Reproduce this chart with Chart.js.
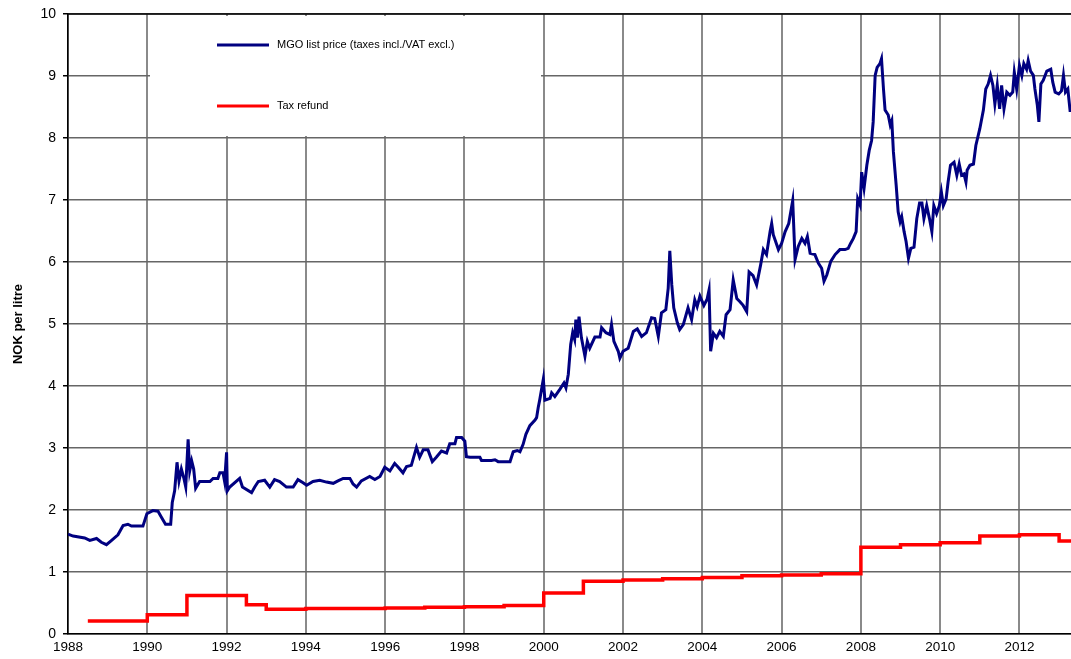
<!DOCTYPE html>
<html>
<head>
<meta charset="utf-8">
<script src="https://cdn.jsdelivr.net/npm/chart.js@4.4.0/dist/chart.umd.min.js"></script>
<style>
  html, body { margin: 0; padding: 0; background: #fff; }
  #wrap { width: 1071px; height: 659px; }
</style>
</head>
<body>
<div id="wrap"><canvas id="graf1"></canvas></div>
<script>
// tick labels
var year_ticks = [1988, 1990, 1992, 1994, 1996, 1998, 2000, 2002, 2004, 2006, 2008, 2010, 2012];

// MGO list price (taxes incl./VAT excl.), NOK per litre
var price_years = [
  1988.00, 1988.13, 1988.42, 1988.55, 1988.72, 1988.84, 1988.97, 1989.10, 1989.26, 1989.39,
  1989.51, 1989.60, 1989.89, 1989.99, 1990.14, 1990.27, 1990.36, 1990.46, 1990.59, 1990.63,
  1990.69, 1990.75, 1990.80, 1990.86, 1990.92, 1990.97, 1991.03, 1991.07, 1991.12, 1991.17,
  1991.22, 1991.32, 1991.58, 1991.66, 1991.78, 1991.83, 1991.91, 1991.95, 1992.00, 1992.02,
  1992.08, 1992.33, 1992.40, 1992.63, 1992.71, 1992.80, 1992.96, 1993.09, 1993.21, 1993.34,
  1993.51, 1993.68, 1993.80, 1993.93, 1994.02, 1994.18, 1994.35, 1994.52, 1994.69, 1994.81,
  1994.94, 1995.11, 1995.19, 1995.28, 1995.40, 1995.61, 1995.74, 1995.87, 1995.99, 1996.12,
  1996.24, 1996.33, 1996.45, 1996.54, 1996.66, 1996.79, 1996.87, 1996.96, 1997.08, 1997.19,
  1997.29, 1997.42, 1997.55, 1997.63, 1997.76, 1997.80, 1997.93, 1998.01, 1998.05, 1998.14,
  1998.39, 1998.43, 1998.68, 1998.77, 1998.85, 1999.15, 1999.23, 1999.33, 1999.40, 1999.48,
  1999.55, 1999.65, 1999.78, 1999.82, 1999.86, 1999.90, 1999.99, 2000.03, 2000.16, 2000.20,
  2000.28, 2000.41, 2000.51, 2000.56, 2000.62, 2000.68, 2000.73, 2000.78, 2000.81, 2000.85,
  2000.89, 2000.95, 2001.04, 2001.10, 2001.16, 2001.29, 2001.42, 2001.46, 2001.57, 2001.67,
  2001.71, 2001.77, 2001.88, 2001.92, 2002.00, 2002.13, 2002.26, 2002.36, 2002.47, 2002.59,
  2002.72, 2002.80, 2002.89, 2002.97, 2003.08, 2003.14, 2003.18, 2003.23, 2003.28, 2003.37,
  2003.43, 2003.52, 2003.64, 2003.73, 2003.81, 2003.87, 2003.94, 2004.04, 2004.12, 2004.17,
  2004.21, 2004.28, 2004.36, 2004.44, 2004.53, 2004.60, 2004.70, 2004.78, 2004.87, 2004.95,
  2005.03, 2005.12, 2005.18, 2005.28, 2005.37, 2005.47, 2005.54, 2005.62, 2005.71, 2005.75,
  2005.79, 2005.92, 2006.00, 2006.09, 2006.18, 2006.28, 2006.34, 2006.42, 2006.51, 2006.59,
  2006.65, 2006.72, 2006.84, 2006.93, 2007.01, 2007.07, 2007.14, 2007.24, 2007.35, 2007.47,
  2007.60, 2007.68, 2007.74, 2007.81, 2007.88, 2007.92, 2007.98, 2008.02, 2008.08, 2008.15,
  2008.21, 2008.27, 2008.31, 2008.36, 2008.41, 2008.48, 2008.52, 2008.57, 2008.61, 2008.69,
  2008.74, 2008.78, 2008.82, 2008.89, 2008.94, 2008.99, 2009.03, 2009.09, 2009.14, 2009.20,
  2009.26, 2009.34, 2009.41, 2009.48, 2009.54, 2009.59, 2009.66, 2009.73, 2009.79, 2009.84,
  2009.91, 2009.98, 2010.03, 2010.08, 2010.15, 2010.20, 2010.26, 2010.35, 2010.42, 2010.48,
  2010.54, 2010.60, 2010.65, 2010.68, 2010.75, 2010.84, 2010.90, 2011.00, 2011.09, 2011.15,
  2011.21, 2011.27, 2011.33, 2011.38, 2011.44, 2011.50, 2011.55, 2011.61, 2011.68, 2011.76,
  2011.83, 2011.87, 2011.93, 2012.00, 2012.06, 2012.11, 2012.18, 2012.22, 2012.28, 2012.35,
  2012.39, 2012.45, 2012.49, 2012.54, 2012.60, 2012.69, 2012.79, 2012.84, 2012.90, 2012.99,
  2013.06, 2013.11, 2013.16, 2013.22, 2013.28
];
var price_values = [
  1.61, 1.58, 1.55, 1.51, 1.54, 1.48, 1.44, 1.51, 1.60, 1.75,
  1.77, 1.74, 1.74, 1.94, 1.99, 1.98, 1.88, 1.77, 1.77, 2.12,
  2.31, 2.77, 2.47, 2.66, 2.52, 2.37, 3.14, 2.63, 2.79, 2.66,
  2.35, 2.46, 2.46, 2.51, 2.51, 2.60, 2.60, 2.46, 2.93, 2.31,
  2.37, 2.51, 2.37, 2.28, 2.37, 2.46, 2.48, 2.37, 2.49, 2.46,
  2.37, 2.37, 2.49, 2.44, 2.40, 2.46, 2.48, 2.45, 2.43, 2.47,
  2.51, 2.51, 2.42, 2.37, 2.47, 2.54, 2.49, 2.54, 2.69, 2.63,
  2.75, 2.69, 2.60, 2.70, 2.72, 3.01, 2.85, 2.97, 2.97, 2.78,
  2.85, 2.95, 2.92, 3.07, 3.07, 3.17, 3.17, 3.11, 2.86, 2.85,
  2.85, 2.80, 2.80, 2.81, 2.78, 2.78, 2.94, 2.96, 2.94, 3.06,
  3.22, 3.36, 3.45, 3.49, 3.65, 3.78, 4.11, 3.77, 3.80, 3.89,
  3.83, 3.95, 4.05, 3.97, 4.19, 4.67, 4.86, 4.75, 5.07, 4.78,
  5.12, 4.78, 4.48, 4.72, 4.61, 4.79, 4.79, 4.94, 4.86, 4.83,
  4.99, 4.72, 4.56, 4.45, 4.56, 4.61, 4.88, 4.92, 4.80, 4.86,
  5.10, 5.09, 4.80, 5.18, 5.23, 5.58, 6.18, 5.63, 5.26, 5.02,
  4.91, 4.99, 5.26, 5.07, 5.39, 5.28, 5.45, 5.30, 5.40, 5.55,
  4.56, 4.85, 4.78, 4.88, 4.80, 5.15, 5.23, 5.71, 5.41, 5.36,
  5.30, 5.20, 5.84, 5.78, 5.63, 5.95, 6.20, 6.12, 6.49, 6.62,
  6.44, 6.20, 6.30, 6.49, 6.62, 6.99, 6.04, 6.25, 6.38, 6.30,
  6.41, 6.14, 6.12, 5.98, 5.90, 5.69, 5.79, 6.01, 6.12, 6.20,
  6.20, 6.22, 6.30, 6.38, 6.49, 7.02, 6.92, 7.45, 7.19, 7.56,
  7.80, 7.96, 8.26, 9.01, 9.14, 9.20, 9.28, 8.79, 8.45, 8.37,
  8.21, 8.28, 7.78, 7.24, 6.81, 6.65, 6.73, 6.49, 6.33, 6.06,
  6.22, 6.24, 6.70, 6.95, 6.95, 6.70, 6.91, 6.70, 6.49, 6.91,
  6.78, 6.91, 7.13, 6.91, 7.02, 7.29, 7.56, 7.61, 7.40, 7.58,
  7.40, 7.42, 7.29, 7.48, 7.56, 7.58, 7.88, 8.15, 8.45, 8.79,
  8.87, 9.01, 8.85, 8.55, 8.85, 8.47, 8.85, 8.47, 8.74, 8.69,
  8.74, 9.06, 8.79, 9.17, 9.01, 9.20, 9.11, 9.25, 9.08, 9.01,
  8.79, 8.53, 8.26, 8.87, 8.93, 9.08, 9.11, 8.90, 8.74, 8.71,
  8.76, 9.01, 8.74, 8.79, 8.42
];

// Tax refund, NOK per litre (step changes)
var refund_years = [
  1988.5, 1990, 1991, 1992.5, 1993, 1994, 1995, 1996, 1997, 1998, 1999, 2000, 2001,
  2002, 2003, 2004, 2005, 2006, 2007, 2008, 2009, 2010, 2011, 2012, 2013, 2013.3
];
var refund_values = [
  0.21, 0.31, 0.62, 0.47, 0.40, 0.41, 0.41, 0.42, 0.43, 0.44, 0.46, 0.66, 0.85,
  0.87, 0.89, 0.91, 0.94, 0.95, 0.97, 1.40, 1.44, 1.47, 1.58, 1.60, 1.50, 1.50
];

var series_names = ['MGO list price (taxes incl./VAT excl.)', 'Tax refund'];
var series_colors = ['#000080', '#ff0000'];

function toPoints(xs, ys) {
    return xs.map(function (x, i) { return { x: x, y: ys[i] }; });
}

var fontFam = "'Liberation Sans', Arial, sans-serif";

// white legend box inside the plot, drawn over the grid but under the lines
var legendBox = {
    id: 'legendBox',
    beforeDatasetsDraw: function (chart) {
        var ctx = chart.ctx, a = chart.chartArea;
        ctx.save();
        ctx.fillStyle = '#ffffff';
        ctx.fillRect(a.left + 82, a.top + 2, 391, 120);
        ctx.restore();
    },
    afterDatasetsDraw: function (chart) {
        var ctx = chart.ctx, a = chart.chartArea;
        ctx.save();
        // top frame line
        ctx.strokeStyle = '#000';
        ctx.lineWidth = 1.5;
        ctx.beginPath();
        ctx.moveTo(a.left, a.top);
        ctx.lineTo(a.right, a.top);
        ctx.stroke();
        ctx.font = '11px ' + fontFam;
        ctx.textBaseline = 'middle';
        ctx.fillStyle = '#000';
        var rows = [a.top + 31, a.top + 92];
        for (var i = 0; i < 2; i++) {
            ctx.strokeStyle = series_colors[i];
            ctx.lineWidth = 3;
            ctx.beginPath();
            ctx.moveTo(a.left + 149, rows[i]);
            ctx.lineTo(a.left + 201, rows[i]);
            ctx.stroke();
            ctx.fillText(series_names[i], a.left + 209, rows[i]);
        }
        ctx.restore();
    }
};

var graf1 = new Chart(document.getElementById('graf1'), {
    type: 'line',
    data: {
        datasets: [{
            label: series_names[0],
            data: toPoints(price_years, price_values),
            borderColor: series_colors[0],
            borderWidth: 3,
            pointRadius: 0,
            fill: false,
            tension: 0
        }, {
            label: series_names[1],
            data: toPoints(refund_years, refund_values),
            borderColor: series_colors[1],
            borderWidth: 3.5,
            pointRadius: 0,
            fill: false,
            stepped: 'before'
        }]
    },
    options: {
        responsive: true,
        maintainAspectRatio: false,
        animation: false,
        layout: { padding: { top: 12, right: 0, left: 0, bottom: 0 } },
        plugins: {
            legend: { display: false },
            tooltip: { enabled: false }
        },
        scales: {
            x: {
                type: 'linear',
                min: 1988,
                max: 2013.3,
                afterBuildTicks: function (scale) {
                    scale.ticks = year_ticks.map(function (v) { return { value: v }; });
                },
                afterFit: function (scale) { scale.height = 25; },
                ticks: {
                    autoSkip: false,
                    maxRotation: 0,
                    padding: 5,
                    color: '#000',
                    font: { family: fontFam, size: 13.5 },
                    callback: function (v) { return String(v); }
                },
                grid: {
                    color: '#8a8a8a',
                    lineWidth: 2,
                    drawTicks: false
                },
                border: { color: '#000', width: 1.5 }
            },
            y: {
                min: 0,
                max: 10,
                afterFit: function (scale) { scale.width = 68; },
                ticks: {
                    stepSize: 1,
                    padding: 7,
                    color: '#000',
                    font: { family: fontFam, size: 14, lineHeight: 1 }
                },
                grid: {
                    color: '#666666',
                    lineWidth: 1.5,
                    tickLength: 5,
                    tickColor: '#000'
                },
                border: { color: '#000', width: 1.5 },
                title: {
                    display: true,
                    text: 'NOK per litre',
                    color: '#000',
                    font: { family: fontFam, size: 13, weight: 'bold' },
                    padding: { top: 11, bottom: 0 }
                }
            }
        }
    },
    plugins: [legendBox]
});
</script>
</body>
</html>
